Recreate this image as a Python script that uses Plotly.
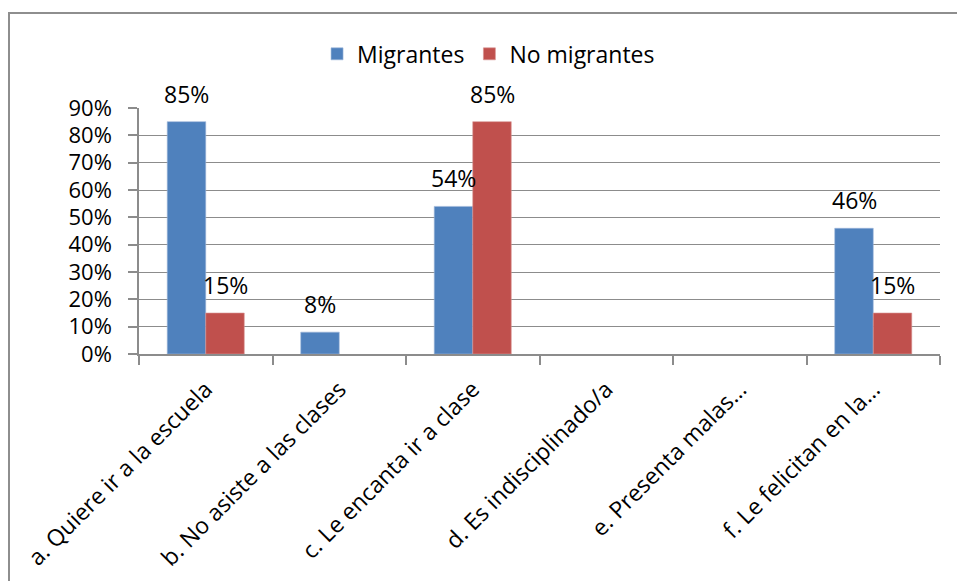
import plotly.graph_objects as go

categories = ["a. Quiere ir a la escuela", "b. No asiste a las clases", "c. Le encanta ir a clase",
              "d. Es indisciplinado/a", "e. Presenta malas…", "f. Le felicitan en la…"]
migrantes = [0.85, 0.08, 0.54, None, None, 0.46]
no_migrantes = [0.15, None, 0.85, None, None, 0.15]
yticks = [0, 0.1, 0.2, 0.3, 0.4, 0.5, 0.6, 0.7, 0.8, 0.9]
ytick_labels = ["0%", "10%", "20%", "30%", "40%", "50%", "60%", "70%", "80%", "90%"]

FONT = "Open Sans"
BLUE = "#4F81BD"
RED = "#C0504D"
GRID = "#8C8C8C"

fig = go.Figure()
fig.add_trace(go.Bar(name="Migrantes", x=categories, y=migrantes, marker_color=BLUE,
                     marker_line=dict(color="#9DB7DA", width=0.6)))
fig.add_trace(go.Bar(name="No migrantes", x=categories, y=no_migrantes, marker_color=RED,
                     marker_line=dict(color="#D99694", width=0.6)))

annotations = []
for series, shift in ((migrantes, -19.25), (no_migrantes, 19.25)):
    for c, v in zip(categories, series):
        if v is None:
            continue
        annotations.append(dict(x=c, y=v, xref="x", yref="y", text=f"{round(v*100)}%",
                                showarrow=False, xshift=shift, yshift=10, yanchor="bottom",
                                font=dict(family=FONT, size=23, color="#000")))

fig.update_layout(
    width=957, height=581,
    margin=dict(l=139, r=17, t=108, b=227),
    paper_bgcolor="white", plot_bgcolor="white",
    barmode="group", bargap=0.423, bargroupgap=0,
    font=dict(family=FONT, size=22, color="#000"),
    showlegend=True,
    legend=dict(orientation="h", x=0.4364, xanchor="center", y=1.22, yanchor="middle",
                font=dict(family=FONT, size=23), itemwidth=30, tracegroupgap=0),
    annotations=annotations,
    shapes=[dict(type="rect", xref="paper", yref="paper", x0=-0.1623, x1=1.6,
                 y0=-2.0, y1=1.3862, line=dict(color="#8E8E8E", width=2),
                 fillcolor="rgba(0,0,0,0)", layer="below")],
)
fig.update_xaxes(type="category", showline=True, linecolor=GRID, linewidth=1.5,
                 ticks="outside", tickson="boundaries", ticklen=9, tickcolor=GRID, tickwidth=1.5,
                 tickangle=-45, tickfont=dict(family=FONT, size=23), showgrid=False,
                 automargin=False, ticklabelstandoff=11)
fig.update_yaxes(range=[0, 0.9], tickvals=yticks, ticktext=ytick_labels,
                 showline=True, linecolor=GRID, linewidth=1.5,
                 ticks="outside", ticklen=9, tickcolor=GRID, tickwidth=1.5,
                 showgrid=True, gridcolor=GRID, gridwidth=1.2, zeroline=False,
                 tickfont=dict(family=FONT, size=22), ticklabelstandoff=12, automargin=False)

fig.write_html("out.html", config={"displayModeBar": False},
               post_script="document.body.style.margin='0';document.body.style.overflow='hidden';")
